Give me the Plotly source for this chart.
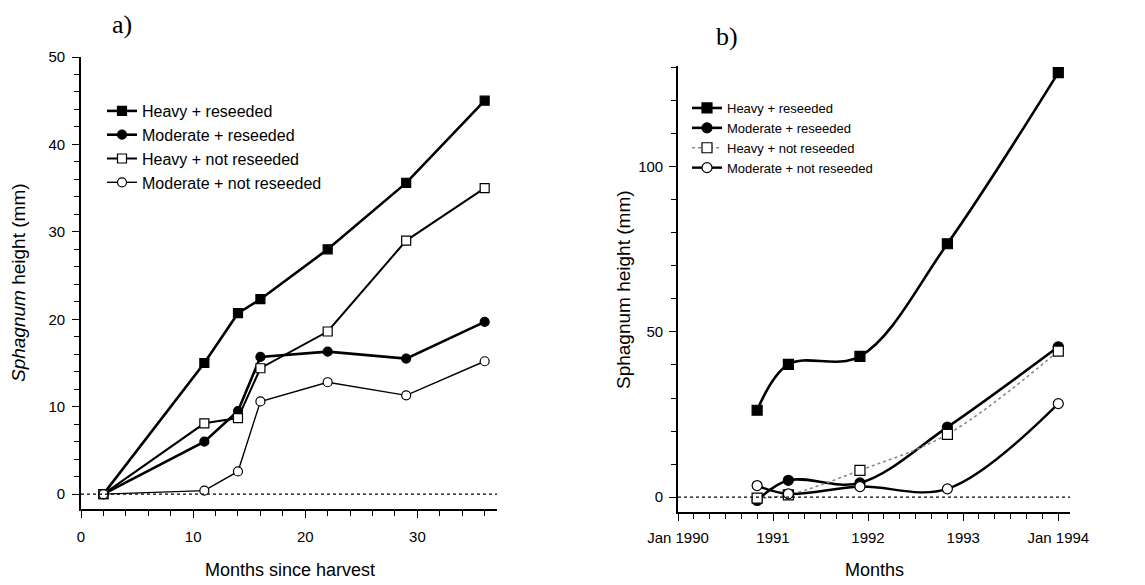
import plotly.graph_objects as go

# ---------------- Data ----------------
# Panel a: months since harvest
months_a = [2, 11, 14, 16, 22, 29, 36]
heavy_reseeded_a = [0, 15.0, 20.7, 22.3, 28.0, 35.6, 45.0]
moderate_reseeded_a = [0, 6.0, 9.5, 15.7, 16.3, 15.5, 19.7]
heavy_not_a = [0, 8.1, 8.7, 14.4, 18.6, 29.0, 35.0]
moderate_not_a = [0, 0.4, 2.6, 10.6, 12.8, 11.3, 15.2]

# Panel b: dates
dates_b = ["1990-11-01", "1991-03-01", "1991-12-01", "1992-11-01", "1994-01-01"]
heavy_reseeded_b = [26.3, 40.2, 42.6, 76.7, 128.5]
moderate_reseeded_b = [-1.0, 5.1, 4.3, 21.2, 45.5]
heavy_not_b = [-0.3, 0.7, 8.1, 19.0, 44.2]
moderate_not_b = [3.5, 1.0, 3.2, 2.5, 28.3]

series_names = ["Heavy + reseeded", "Moderate + reseeded",
                "Heavy + not reseeded", "Moderate + not reseeded"]

xticks_a = [0, 10, 20, 30]
yticks_a = [0, 10, 20, 30, 40, 50]
xticks_b = ["1990-01-01", "1991-01-01", "1992-01-01", "1993-01-01", "1994-01-01"]
xticklabels_b = ["Jan 1990", "1991", "1992", "1993", "Jan 1994"]
yticks_b = [0, 50, 100]

W, H = 1145, 585
OFF = 8  # page body margin
FONT = "Liberation Sans, Arial, sans-serif"
SERIF = "Liberation Serif, Times New Roman, serif"


def px(x):
    return (x - OFF) / W


def py(y):
    return 1 - (y - OFF) / H


fig = go.Figure()

# ---------------- Panel a ----------------
styles_a = [
    dict(sym="square", fill="black", lw=2.6, dash="solid", col="black"),
    dict(sym="circle", fill="black", lw=2.6, dash="solid", col="black"),
    dict(sym="square", fill="white", lw=2.0, dash="solid", col="black"),
    dict(sym="circle", fill="white", lw=1.4, dash="solid", col="black"),
]
data_a = [heavy_reseeded_a, moderate_reseeded_a, heavy_not_a, moderate_not_a]
for name, ys, st in zip(series_names, data_a, styles_a):
    fig.add_trace(go.Scatter(
        x=months_a, y=ys, name=name, mode="lines+markers",
        xaxis="x", yaxis="y", legend="legend",
        line=dict(color=st["col"], width=st["lw"], dash=st["dash"]),
        marker=dict(symbol=st["sym"], size=9, color=st["fill"],
                    line=dict(color="black", width=1.2)),
    ))

# ---------------- Panel b ----------------
styles_b = [
    dict(sym="square", fill="black", lw=2.6, dash="solid", col="black"),
    dict(sym="circle", fill="black", lw=2.6, dash="solid", col="black"),
    dict(sym="square", fill="white", lw=1.6, dash="dot", col="#8a8a8a"),
    dict(sym="circle", fill="white", lw=2.4, dash="solid", col="black"),
]
data_b = [heavy_reseeded_b, moderate_reseeded_b, heavy_not_b, moderate_not_b]
for name, ys, st in zip(series_names, data_b, styles_b):
    fig.add_trace(go.Scatter(
        x=dates_b, y=ys, name=name, mode="lines+markers",
        xaxis="x2", yaxis="y2", legend="legend2",
        line=dict(color=st["col"], width=st["lw"], dash=st["dash"],
                  shape="spline", smoothing=1.0),
        marker=dict(symbol=st["sym"], size=10, color=st["fill"],
                    line=dict(color="black", width=1.2)),
    ))

# zero reference lines
fig.add_shape(type="line", xref="x domain", yref="y", x0=0, x1=1, y0=0, y1=0,
              line=dict(color="black", width=1.2, dash="dot"))
fig.add_shape(type="line", xref="x2 domain", yref="y2", x0=0, x1=1, y0=0, y1=0,
              line=dict(color="black", width=1.2, dash="dot"))

axis_common = dict(showline=True, linecolor="black", linewidth=1.6,
                   showgrid=False, zeroline=False, ticks="outside",
                   ticklen=7, tickwidth=1.4, tickcolor="black",
                   tickfont=dict(family=FONT, size=15, color="black"),
                   mirror=False, automargin=False)

fig.update_layout(
    template="none",
    width=W, height=H, autosize=False,
    margin=dict(l=0, r=0, t=0, b=0, pad=0, autoexpand=False),
    paper_bgcolor="white", plot_bgcolor="white",
    font=dict(family=FONT, color="black"),
    xaxis=dict(domain=[px(81), px(497)], range=[0, 37.1], anchor="y",
               tickmode="array", tickvals=xticks_a, ticklabelstandoff=6,
               minor=dict(ticks="outside", dtick=2, tick0=0, ticklen=5,
                          tickwidth=1.2, tickcolor="black"),
               **axis_common),
    yaxis=dict(domain=[py(509), py(57)], range=[-1.7, 50], anchor="x",
               tickmode="array", tickvals=yticks_a, ticklabelstandoff=4,
               minor=dict(ticks="outside", dtick=2, tick0=0, ticklen=5,
                          tickwidth=1.2, tickcolor="black"),
               **axis_common),
    xaxis2=dict(domain=[px(678), px(1070)], range=["1990-01-01", "1994-02-15"],
                anchor="y2", type="date",
                tickmode="array", tickvals=xticks_b, ticktext=xticklabels_b,
                ticklabelstandoff=4,
                minor=dict(ticks="outside", dtick="M2", tick0="1990-01-01",
                           ticklen=5, tickwidth=1.2, tickcolor="black"),
                **axis_common),
    yaxis2=dict(domain=[py(512), py(66)], range=[-4.5, 130.5], anchor="x2",
                tickmode="array", tickvals=yticks_b, ticklabelstandoff=3,
                minor=dict(ticks="outside", dtick=10, tick0=0, ticklen=5,
                           tickwidth=1.2, tickcolor="black"),
                **axis_common),
    legend=dict(x=px(102), y=py(94), xanchor="left", yanchor="top",
                bgcolor="rgba(0,0,0,0)", borderwidth=0,
                font=dict(family=FONT, size=16, color="black"),
                itemwidth=30, tracegroupgap=0),
    legend2=dict(x=px(687), y=py(93), xanchor="left", yanchor="top",
                 bgcolor="rgba(0,0,0,0)", borderwidth=0,
                 font=dict(family=FONT, size=13, color="black"),
                 itemwidth=30, tracegroupgap=0),
    showlegend=True,
)

ann_common = dict(xref="paper", yref="paper", showarrow=False,
                  xanchor="center", yanchor="middle")
annotations = [
    dict(text="a)", x=px(122), y=1.0, font=dict(family=SERIF, size=26, color="black"),
         xref="paper", yref="paper", showarrow=False,
         xanchor="center", yanchor="top"),
    dict(text="b)", x=px(727), y=py(36),
         font=dict(family=SERIF, size=26, color="black"), **ann_common),
    dict(text="<i>Sphagnum</i> height (mm)", x=px(18), y=py(283), textangle=-90,
         font=dict(family=FONT, size=19, color="black"), **ann_common),
    dict(text="Sphagnum height (mm)", x=px(623), y=py(290), textangle=-90,
         font=dict(family=FONT, size=19, color="black"), **ann_common),
    dict(text="Months since harvest", x=px(290), y=py(570),
         font=dict(family=FONT, size=18, color="black"), **ann_common),
    dict(text="Months", x=px(874), y=py(570),
         font=dict(family=FONT, size=18, color="black"), **ann_common),
]
fig.update_layout(annotations=annotations)

fig.write_html("out.html")
